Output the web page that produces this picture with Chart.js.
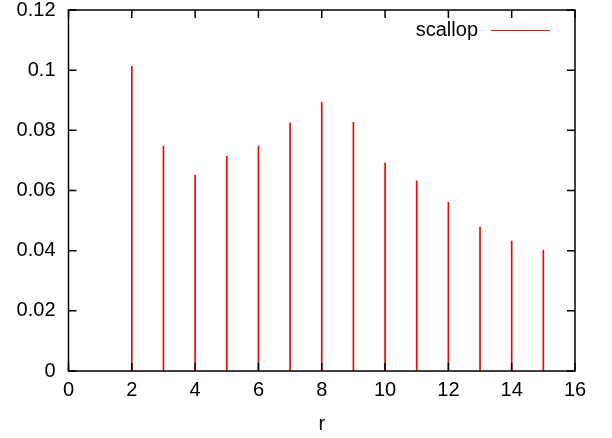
<!DOCTYPE html>
<html>
<head>
<meta charset="utf-8">
<script src="https://cdn.jsdelivr.net/npm/chart.js@4.4.1/dist/chart.umd.min.js"></script>
<style>
  html, body { margin: 0; padding: 0; background: #fff; }
  #wrap { width: 612px; height: 438px; }
</style>
</head>
<body>
<div id="wrap"><canvas id="chart"></canvas></div>
<script>
// data
const rValues = [2, 3, 4, 5, 6, 7, 8, 9, 10, 11, 12, 13, 14, 15];
const scallop = [0.1013, 0.0748, 0.0651, 0.0714, 0.0748, 0.0824, 0.0894, 0.0827, 0.0691, 0.0631, 0.0561, 0.0478, 0.0432, 0.0402];
const xTicks = [0, 2, 4, 6, 8, 10, 12, 14, 16];
const yTicks = [0, 0.02, 0.04, 0.06, 0.08, 0.1, 0.12];
const yTickLabels = ['0', '0.02', '0.04', '0.06', '0.08', '0.1', '0.12'];

const FONT = { family: '"Liberation Sans", Arial, sans-serif', size: 20 };

// gnuplot style frame with inward ticks on all four sides + legend
const framePlugin = {
    id: 'frame',
    afterDraw(chart) {
        const ctx = chart.ctx;
        const a = chart.chartArea;
        const xs = chart.scales.x, ys = chart.scales.y;
        const tl = 8;
        ctx.save();
        ctx.strokeStyle = '#000';
        ctx.lineWidth = 1.5;
        ctx.beginPath();
        xTicks.forEach(v => {
            const px = xs.getPixelForValue(v);
            ctx.moveTo(px, a.bottom); ctx.lineTo(px, a.bottom - tl);
            ctx.moveTo(px, a.top); ctx.lineTo(px, a.top + tl);
        });
        yTicks.forEach(v => {
            const py = ys.getPixelForValue(v);
            ctx.moveTo(a.left, py); ctx.lineTo(a.left + tl, py);
            ctx.moveTo(a.right, py); ctx.lineTo(a.right - tl, py);
        });
        ctx.stroke();
        ctx.strokeRect(a.left, a.top, a.right - a.left, a.bottom - a.top);

        // legend
        const ds = chart.data.datasets[0];
        ctx.font = FONT.size + 'px ' + FONT.family;
        ctx.fillStyle = '#000';
        ctx.textAlign = 'right';
        ctx.textBaseline = 'middle';
        ctx.fillText(ds.label, a.right - 97, a.top + 20);
        ctx.strokeStyle = ds.backgroundColor;
        ctx.lineWidth = 1;
        ctx.beginPath();
        ctx.moveTo(a.right - 84, a.top + 20.5);
        ctx.lineTo(a.right - 25, a.top + 20.5);
        ctx.stroke();
        ctx.restore();
    }
};

new Chart(document.getElementById('chart'), {
    type: 'bar',
    data: {
        datasets: [{
            label: 'scallop',
            data: rValues.map((r, i) => ({ x: r, y: scallop[i] })),
            backgroundColor: '#ff0000',
            borderWidth: 0,
            barThickness: 1
        }]
    },
    options: {
        responsive: true,
        maintainAspectRatio: false,
        animation: false,
        layout: { padding: { top: 10, right: 37, left: 0, bottom: 0 } },
        plugins: {
            legend: { display: false },
            tooltip: { enabled: false }
        },
        scales: {
            x: {
                type: 'linear',
                offset: false,
                min: 0,
                max: 16,
                grid: { display: false, drawTicks: false, offset: false },
                border: { display: false },
                afterBuildTicks: s => { s.ticks = xTicks.map(v => ({ value: v })); },
                afterFit: s => { s.height = 67; s.paddingLeft = 0; s.paddingRight = 0; },
                ticks: { color: '#000', font: FONT, padding: 7, maxRotation: 0 },
                title: { display: true, text: 'r', color: '#000', font: FONT, padding: { top: 0, bottom: 2 } }
            },
            y: {
                min: 0,
                max: 0.12,
                grid: { display: false, drawTicks: false },
                border: { display: false },
                afterBuildTicks: s => { s.ticks = yTicks.map(v => ({ value: v })); },
                afterFit: s => { s.width = 68.5; s.paddingTop = 0; s.paddingBottom = 0; },
                ticks: {
                    color: '#000',
                    font: FONT,
                    padding: 13,
                    callback: (v, i) => yTickLabels[i]
                }
            }
        }
    },
    plugins: [framePlugin]
});
</script>
</body>
</html>
